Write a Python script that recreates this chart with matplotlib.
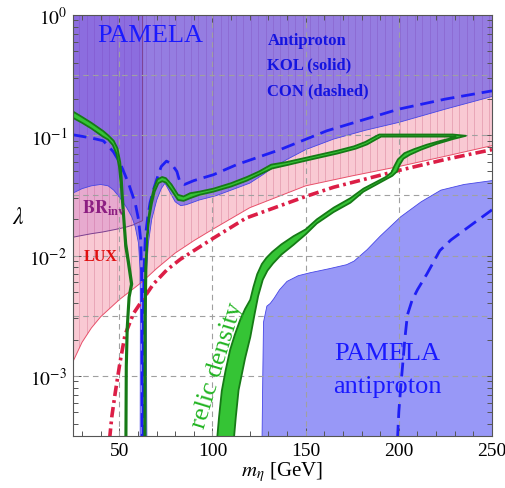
import numpy as np
import matplotlib.pyplot as plt
from matplotlib.patches import Polygon
from matplotlib.ticker import MultipleLocator, LogLocator, NullFormatter, FixedLocator

plt.rcParams['font.family'] = ['Liberation Serif', 'DejaVu Serif']
plt.rcParams['mathtext.fontset'] = 'stix'
plt.rcParams['lines.scale_dashes'] = False

# bottom of the lambda range, used where a curve runs off the axis
LAM_FLOOR = 3e-4

# LUX direct detection: shaded region boundary (thin line)
lux_m = [25, 30, 35, 40, 50, 62, 70, 80, 90, 100, 120, 150, 175, 200, 225, 250]
lux_lam = [1.3e-3, 1.9e-3, 2.5e-3, 3.1e-3, 4.3e-3, 6.0e-3, 7.8e-3, 0.0105, 0.0133,
           0.0165, 0.025, 0.038, 0.046, 0.055, 0.067, 0.082]

# LUX dot-dashed curve
luxdd_m = [44.8, 46, 47.8, 50.4, 53.1, 57.6, 63, 68.3, 75.5, 82.7, 100, 118, 150,
           165, 200, 225, 250]
luxdd_lam = [3e-4, 4.6e-4, 7.2e-4, 1.3e-3, 2.2e-3, 3.3e-3, 4.4e-3, 5.8e-3, 7.6e-3,
             9.3e-3, 0.0138, 0.0205, 0.031, 0.037, 0.051, 0.063, 0.076]

# Higgs invisible width bound (m < m_h/2)
br_m = [25, 30, 35, 41, 48, 54, 57.5, 60, 62.5]
br_lam = [0.0142, 0.0147, 0.0152, 0.0157, 0.0165, 0.0173, 0.018, 0.0188, 0.0195]

# PAMELA antiproton, KOL propagation: lower edge of excluded region
kol_m = [25, 30, 35, 40, 44, 47, 50.5, 54, 56.7, 58.5, 60.3, 61.2, 61.3, 61.2,
         64.8, 64.5, 64.6, 65.6, 67.4, 70.1, 72.5, 74.5, 77, 80, 83, 86, 93, 102,
         110, 120, 127, 131, 140, 150, 165, 182, 200, 225, 250]
kol_lam = [0.033, 0.036, 0.038, 0.039, 0.038, 0.035, 0.030, 0.025, 0.021, 0.0175,
           0.0127, 0.0075, 0.003, 3e-4, 3e-4, 0.003, 0.0075, 0.0127, 0.020, 0.029,
           0.036, 0.040, 0.034, 0.028, 0.026, 0.0265, 0.029, 0.0315, 0.035, 0.040,
           0.047, 0.052, 0.063, 0.076, 0.093, 0.110, 0.128, 0.165, 0.21]

# CON propagation (dashed), two branches around the resonance
con_l_m = [25, 30, 35, 41.4, 46.8, 50.4, 54.9, 58.5, 60.3, 61.5, 62.0, 62.2, 62.3]
con_l_lam = [0.101, 0.098, 0.095, 0.090, 0.073, 0.059, 0.040, 0.0275, 0.020,
             0.0135, 0.007, 0.003, 3e-4]
con_r_m = [62.8, 62.9, 63.3, 64, 65.3, 66.5, 68, 70.1, 72.5, 75.3, 78, 80.9, 82.5,
           85, 90, 100.5, 113, 136.3, 161.4, 200, 225, 250]
con_r_lam = [3e-4, 0.003, 0.008, 0.0145, 0.021, 0.0275, 0.034, 0.043, 0.055, 0.061,
             0.058, 0.050, 0.041, 0.039, 0.042, 0.047, 0.057, 0.076, 0.109, 0.165,
             0.200, 0.234]

# PAMELA antiproton region at large mass
ap_m = [126.6, 127, 127.4, 129.2, 131, 133, 136, 140, 146, 152.4, 163, 172, 176,
        180, 183, 190, 201, 212, 222.6, 235, 250]
ap_lam = [3e-4, 1.0e-3, 2.8e-3, 3.8e-3, 4.0e-3, 4.4e-3, 5.2e-3, 6.1e-3, 6.8e-3,
          7.2e-3, 7.8e-3, 8.4e-3, 9.0e-3, 0.0102, 0.0112, 0.0145, 0.021, 0.028,
          0.035, 0.039, 0.042]
apc_m = [199.3, 200, 201, 202, 203.2, 204.6, 207, 210, 215, 222, 228, 240, 250]
apc_lam = [3e-4, 5e-4, 8e-4, 1.2e-3, 2.0e-3, 3.2e-3, 4.2e-3, 5.2e-3, 7e-3, 0.011,
           0.0135, 0.0185, 0.024]

# relic density band, low-mass branch: two edges
rl_a_m = [25, 30, 35, 41.5, 44, 47, 49, 50.5, 51.3, 52, 52.8, 53.8, 55.2, 57.0,
          55.6, 54.6, 54.1, 53.9]
rl_a_lam = [0.158, 0.142, 0.127, 0.108, 0.100, 0.090, 0.078, 0.060, 0.045, 0.030,
            0.020, 0.0125, 0.009, 0.0058, 0.0045, 0.0025, 0.0012, 3e-4]
rl_b_m = [25, 30, 35, 41, 44, 46.5, 48.5, 49.8, 50.7, 51.4, 52.2, 53.1, 54.5, 56.2,
          54.9, 53.9, 53.4, 53.2]
rl_b_lam = [0.140, 0.127, 0.114, 0.098, 0.092, 0.083, 0.070, 0.055, 0.040, 0.028,
            0.019, 0.012, 0.0088, 0.0058, 0.0045, 0.0025, 0.0012, 3e-4]

# relic density band, main branch: outer edge and inner edge
rh_a_m = [111.5, 112.5, 114, 117.5, 120.3, 122.5, 124.5, 127, 129.5, 132.5, 137,
          143.5, 150, 156, 165, 174, 181, 188, 193, 196.5, 199, 200.5, 202.5, 206,
          212, 220, 229, 236, 229, 200, 189.5, 186.5, 182, 176, 167, 151, 140, 131.5,
          125, 118.5, 110, 100.5, 93, 88, 84.5, 81.5, 78, 75, 73, 70.5, 68.5, 67,
          65.7, 65.1, 64.6, 64.2, 64.1]
rh_a_lam = [3e-4, 4.5e-4, 7.6e-4, 1.4e-3, 2.1e-3, 3.2e-3, 4.6e-3, 6.3e-3, 7.5e-3,
            8.6e-3, 0.0102, 0.0123, 0.015, 0.0185, 0.023, 0.0275, 0.034, 0.039,
            0.043, 0.046, 0.050, 0.057, 0.064, 0.069, 0.076, 0.0845, 0.093, 0.099,
            0.1015, 0.1015, 0.1015, 0.096, 0.088, 0.081, 0.0745, 0.0655, 0.060,
            0.057, 0.050, 0.045, 0.040, 0.036, 0.034, 0.033, 0.031, 0.032, 0.039,
            0.044, 0.045, 0.043, 0.036, 0.029, 0.021, 0.015, 0.008, 0.003, 3e-4]
rh_b_m = [102.5, 103.5, 105, 107, 109.5, 112, 114.8, 117.5, 120.3, 122, 124, 126.5,
          129, 132, 137, 143.5, 150, 156, 165, 174, 181, 188, 193, 196, 197.5, 199.5,
          203, 208, 215, 222, 228, 230.5, 225, 200, 190.5, 187.5, 183, 177, 167, 151,
          140, 132, 125, 118.5, 110, 100.5, 93, 88, 84.5, 81.5, 78, 75, 73, 71, 69,
          67.5, 66, 64.9, 63.9, 63.5, 63.4]
rh_b_lam = [3e-4, 4.5e-4, 7.5e-4, 1.1e-3, 1.65e-3, 2.2e-3, 2.9e-3, 3.6e-3, 4.3e-3,
            5.5e-3, 7.0e-3, 8.5e-3, 9.6e-3, 0.0107, 0.0124, 0.0145, 0.0165, 0.020,
            0.025, 0.030, 0.036, 0.041, 0.045, 0.049, 0.055, 0.063, 0.071, 0.0765,
            0.0835, 0.0895, 0.0945, 0.0975, 0.0975, 0.0975, 0.0975, 0.092, 0.084,
            0.0775, 0.0705, 0.062, 0.0565, 0.053, 0.047, 0.042, 0.0375, 0.034,
            0.032, 0.030, 0.0285, 0.029, 0.035, 0.0405, 0.0415, 0.040, 0.034, 0.027,
            0.020, 0.014, 0.008, 0.003, 3e-4]

xticks = [50, 100, 150, 200, 250]
xticklabels = ['50', '100', '150', '200', '250']
yticks = [1e-3, 1e-2, 1e-1, 1]
yticklabels = [r'$10^{-3}$', r'$10^{-2}$', r'$10^{-1}$', r'$10^{0}$']
grid_x = [50, 100, 150, 200]
grid_y = [1e-3, 10**-2.5, 1e-2, 10**-1.5, 1e-1, 10**-0.5]

fig = plt.figure(figsize=(5.06, 4.89), dpi=100)
ax = fig.add_axes([0.1437, 0.1063, 0.8286, 0.861])
ax.set_yscale('log')
ax.set_xlim(25, 250)
ax.set_ylim(10**-3.5, 1)

# LUX excluded region with vertical striping
lux_poly = Polygon(list(zip(lux_m, lux_lam)) + [(250, 1), (25, 1)], closed=True,
                   fc='#f9c9d3', ec='none', zorder=1)
ax.add_patch(lux_poly)
stripes = ax.vlines(np.arange(24.5, 251, 4), 1e-4, 1, colors='#e9a6b8', lw=0.7, zorder=1.1)
stripes.set_clip_path(lux_poly)
ax.plot(lux_m, lux_lam, color='#e8506a', lw=0.7, zorder=2)

# BR_inv region
ax.add_patch(Polygon(list(zip(br_m, br_lam)) + [(62.5, 1), (25, 1)], closed=True,
                     fc=(0.70, 0.31, 0.78), alpha=0.25, ec='none', zorder=1.2))
ax.plot(br_m + [62.5], br_lam + [1], color='#7b3f8f', lw=0.7, zorder=2)

# PAMELA antiproton (KOL) regions
ax.add_patch(Polygon(list(zip(kol_m, kol_lam)) + [(250, 1), (25, 1)], closed=True,
                     fc='#3232f0', alpha=0.5, ec='none', zorder=1.3))
ax.plot(kol_m, kol_lam, color='#4646e6', lw=0.6, zorder=2)
ax.add_patch(Polygon(list(zip(ap_m, ap_lam)) + [(250, LAM_FLOOR)], closed=True,
                     fc='#3232f0', alpha=0.5, ec='none', zorder=1.3))
ax.plot(ap_m, ap_lam, color='#4646e6', lw=0.6, zorder=2)

# grid
for gx in grid_x:
    ax.axvline(gx, color='#a0a0a0', lw=0.8, ls=(0, (4, 3)), zorder=2.5)
for gy in grid_y:
    ax.axhline(gy, color='#a0a0a0', lw=0.8, ls=(0, (4, 3)), zorder=2.5)

# LUX dot-dashed
ax.plot(luxdd_m, luxdd_lam, color='#dc1e46', lw=2.6, dashes=(7.5, 3, 2, 3), zorder=3)

# CON dashed curves
for mm, ll in [(con_l_m, con_l_lam), (con_r_m, con_r_lam), (apc_m, apc_lam)]:
    ax.plot(mm, ll, color='#1e1ef5', lw=2.0, dashes=(10, 5), zorder=3.5)

# relic density bands
for am, al, bm, bl in [(rl_a_m, rl_a_lam, rl_b_m, rl_b_lam),
                       (rh_a_m, rh_a_lam, rh_b_m, rh_b_lam)]:
    verts = list(zip(am, al)) + list(zip(bm[::-1], bl[::-1]))
    ax.add_patch(Polygon(verts, closed=True, fc='#35c435', ec='#167a16', lw=1.3,
                         joinstyle='round', zorder=4))

# labels
ax.text(66.7, 0.604, 'PAMELA', color='#1a1aff', fontsize=19, ha='center',
        va='baseline', zorder=6)
ax.text(129.5, 0.573, 'Antiproton', color='#1414e0', fontsize=12, fontweight='bold',
        va='baseline', zorder=6)
ax.text(129.5, 0.361, 'KOL (solid)', color='#1414e0', fontsize=12, fontweight='bold',
        va='baseline', zorder=6)
ax.text(129.5, 0.22, 'CON (dashed)', color='#1414e0', fontsize=12, fontweight='bold',
        va='baseline', zorder=6)
ax.text(29.8, 0.0227, r'$\mathbf{BR}_{\mathbf{inv}}$', color='#8c1e82', fontsize=13,
        va='baseline', zorder=6)
ax.text(31.1, 0.0092, 'LUX', color='#e01010', fontsize=11.5, fontweight='bold',
        va='baseline', zorder=6)
ax.text(193.8, 1.38e-3, 'PAMELA', color='#1a1aff', fontsize=19, ha='center',
        va='baseline', zorder=6)
ax.text(193.8, 7.4e-4, 'antiproton', color='#1a1aff', fontsize=19, ha='center',
        va='baseline', zorder=6)
ax.text(102.6, 1.25e-3, 'relic density', color='#22b422', fontsize=19, rotation=73,
        ha='center', va='center', rotation_mode='anchor', zorder=6)

# axes and ticks
ax.xaxis.set_major_locator(FixedLocator(xticks))
ax.set_xticklabels(xticklabels)
ax.xaxis.set_minor_locator(MultipleLocator(10))
ax.set_yticks(yticks)
ax.set_yticklabels(yticklabels)
ax.yaxis.set_minor_locator(LogLocator(base=10, subs=np.arange(2, 10)))
ax.yaxis.set_minor_formatter(NullFormatter())
ax.tick_params(which='both', direction='in', top=True, right=True, color='#555555',
               width=0.7, labelsize=14, zorder=7)
ax.tick_params(which='major', length=6, pad=4)
ax.tick_params(which='minor', length=3.5)
for sp in ax.spines.values():
    sp.set_color('#555555')
    sp.set_linewidth(0.8)
    sp.set_zorder(8)

ax.set_xlabel(r'$m_\eta$ [GeV]', fontsize=15)
ax.xaxis.set_label_coords(0.5, -0.083)
ax.xaxis.label.set_va('center')
ax.set_ylabel(r'$\lambda$', fontsize=17, rotation=0)
ax.yaxis.set_label_coords(-0.13, 0.52)
ax.yaxis.label.set_va('center')
ax.yaxis.label.set_ha('center')

fig.savefig('out.png', dpi=100)
